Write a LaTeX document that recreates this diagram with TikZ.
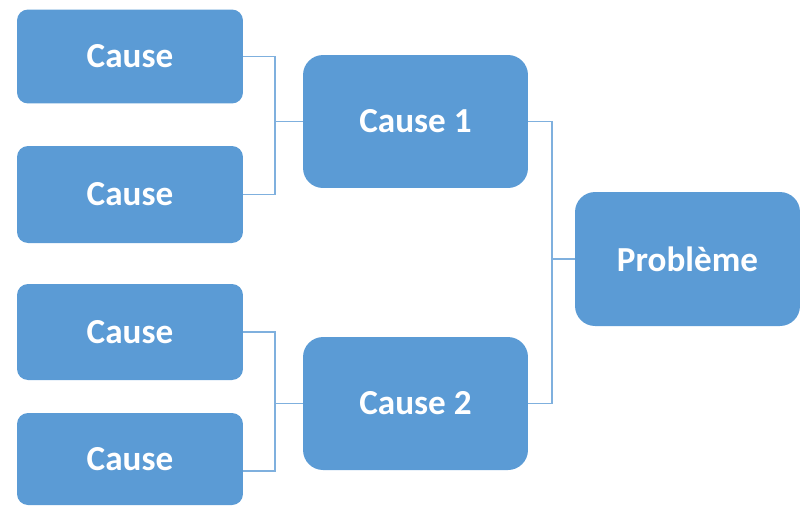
\documentclass[tikz,border=0pt]{standalone}
\usepackage{fontspec}
\setmainfont{Carlito}
\definecolor{boxblue}{HTML}{5B9BD5}
\definecolor{lineblue}{HTML}{7FB0DE}
\begin{document}
\begin{tikzpicture}[x=0.02cm, y=-0.02cm,
                    causebox/.style={fill=boxblue, rounded corners=0.22cm, inner sep=0,
                                     minimum width=4.52cm, minimum height=1.88cm,
                                     text=white, font=\fontsize{20}{24}\selectfont\bfseries},
                    mainbox/.style={causebox, rounded corners=0.4cm,
                                    minimum width=4.5cm, minimum height=2.66cm},
                    link/.style={draw=lineblue, line width=0.8pt}
                    ]
        \useasboundingbox (0,0) rectangle (800,505);
        % left column
        \node[causebox] (c1) at (130,56.5) {Cause};
        \node[causebox, minimum height=1.94cm] (c2) at (130,194.5) {Cause};
        \node[causebox, minimum height=1.92cm] (c3) at (130,332) {Cause};
        \node[causebox, minimum height=1.84cm] (c4) at (130,459) {Cause};
        % middle and right
        \node[mainbox] (cause1) at (415.5,121.5) {Cause 1};
        \node[mainbox] (cause2) at (415.5,403.5) {Cause 2};
        \node[mainbox, minimum height=2.68cm] (prob) at (687.5,259) {Problème};

        \coordinate (b1) at (275,121.5);
        \coordinate (b2) at (275,403.5);
        \coordinate (b3) at (552,259);

        \draw[link] (c1.east) -| (b1);
        \draw[link] (c2.east) -| (b1) -- (cause1.west);
        \draw[link] (c3.east) -| (b2);
        \draw[link] ([yshift=-0.24cm]c4.east) -| (b2) -- (cause2.west);
        \draw[link] (cause1.east) -| (b3);
        \draw[link] (cause2.east) -| (b3) -- (prob.west);
    \end{tikzpicture}
\end{document}
